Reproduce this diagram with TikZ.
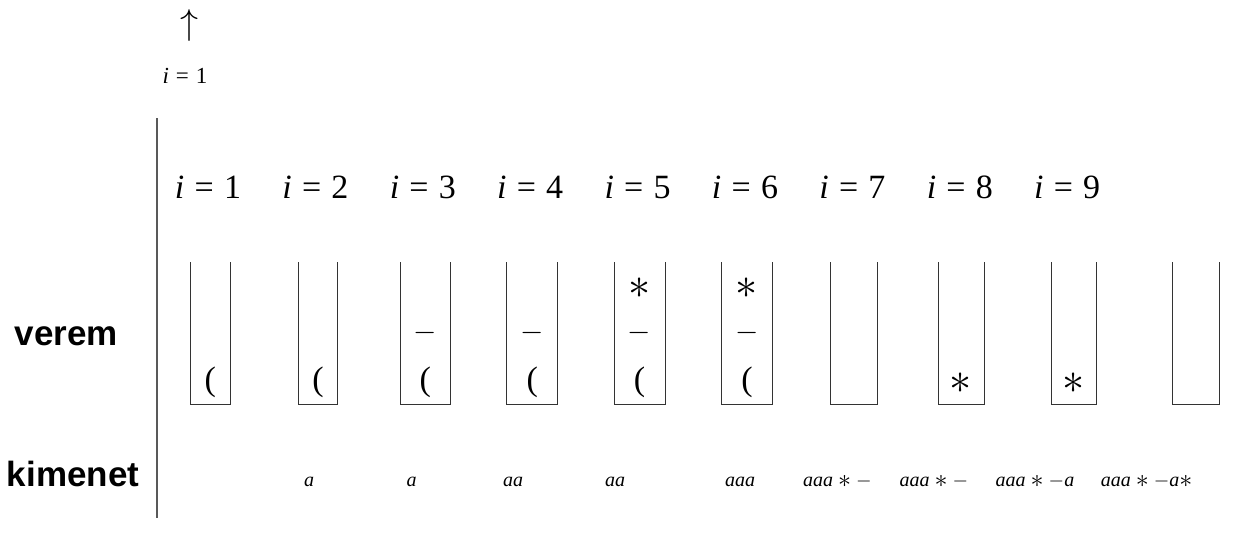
\RequirePackage{fix-cm}
\documentclass[tikz,border=0pt]{standalone}
\usepackage{graphicx}
\usepackage{fontspec}
\setmainfont{Liberation Serif}
\newfontfamily\lsans{Liberation Sans}
\newcommand{\ieq}[1]{\textit{i}\hspace{0.3em}=\hspace{0.3em}#1}
\newcommand{\myast}{\raisebox{-0.08em}{\scalebox{1.3}{$\ast$}}}
\newcommand{\mymin}{\ensuremath{-}}
\newcommand{\bsp}{\hspace{0.25em}}
\begin{document}
\begin{tikzpicture}[x=1pt,y=-1pt,
  every node/.style={inner sep=0pt,outer sep=0pt},
  stackbox/.style={draw=black!80,line width=0.9pt},
  divider/.style={draw=black!65,line width=1.5pt},
  ilabel/.style={anchor=base,font=\fontsize{34}{40}\selectfont},
  smalli/.style={anchor=base,font=\fontsize{23}{27}\selectfont},
  cell/.style={anchor=base,font=\fontsize{34}{40}\selectfont},
  mincell/.style={anchor=base,font=\fontsize{30}{36}\selectfont},
  outlabel/.style={anchor=base,font=\fontsize{20}{24}\selectfont},
  rowlabel/.style={anchor=base,font=\lsans\bfseries\fontsize{35}{42}\selectfont},
]
\useasboundingbox (0,0) rectangle (1258,546);

% top pointer
\node[font=\fontsize{36}{40}\selectfont] (arrow) at (189,25) {$\uparrow$};
\node[smalli] (ptr) at (185,83) {\ieq{1}};

% divider
\coordinate (dtop) at (157,118);
\coordinate (dbot) at (157,518);
\draw[divider] (dtop) -- (dbot);

% row labels
\node[rowlabel] (verem) at (66.5,345) {verem};
\node[rowlabel] (kimenet) at (73,486.5) {kimenet};

% step labels
\foreach \k in {1,...,9}{
  \node[ilabel] (i\k) at ({208+107.4*(\k-1)},198) {\ieq{\k}};
}

% stacks
\foreach \n/\l/\r in {1/190.7/230,2/298.3/337.7,3/400/450.7,4/506.7/557.7,5/614/665,
                      6/721.7/772.3,7/830.7/877.7,8/938.3/984,9/1051/1096,10/1172.7/1219.3}{
  \draw[stackbox] (\l,262) -- (\l,404) -- (\r,404) -- (\r,262);
  \coordinate (s\n) at ({(\l+\r)/2},0);
}

% stack contents (baselines of rows)
\node[cell] (c1a) at (210.3,390.5) {(};
\node[cell] (c2a) at (318,390.5) {(};
\node[cell] (c3a) at (425.3,390.5) {(};
\node[mincell] (c3b) at (425.3,340.5) {\mymin};
\node[cell] (c4a) at (532.2,390.5) {(};
\node[mincell] (c4b) at (532.2,340.5) {\mymin};
\node[cell] (c5a) at (639.5,390.5) {(};
\node[mincell] (c5b) at (639.5,340.5) {\mymin};
\node[cell] (c5c) at (639.5,295.5) {\myast};
\node[cell] (c6a) at (747,390.5) {(};
\node[mincell] (c6b) at (747,340.5) {\mymin};
\node[cell] (c6c) at (747,295.5) {\myast};
\node[cell] (c8a) at (961,390.5) {\myast};
\node[cell] (c9a) at (1073.5,390.5) {\myast};

% output
\node[outlabel] (o2) at (309,486) {\textit{a}};
\node[outlabel] (o3) at (411.7,486) {\textit{a}};
\node[outlabel] (o4) at (513,486) {\textit{aa}};
\node[outlabel] (o5) at (615,486) {\textit{aa}};
\node[outlabel] (o6) at (740,486) {\textit{aaa}};
\node[outlabel] (o7) at (837.5,486) {\textit{aaa}\bsp\myast\bsp\mymin};
\node[outlabel] (o8) at (934,486) {\textit{aaa}\bsp\myast\bsp\mymin};
\node[outlabel] (o9) at (1035,486) {\textit{aaa}\bsp\myast\bsp\mymin\textit{a}};
\node[outlabel] (o10) at (1146.7,486) {\textit{aaa}\bsp\myast\bsp\mymin\textit{a}\myast};
\end{tikzpicture}
\end{document}
